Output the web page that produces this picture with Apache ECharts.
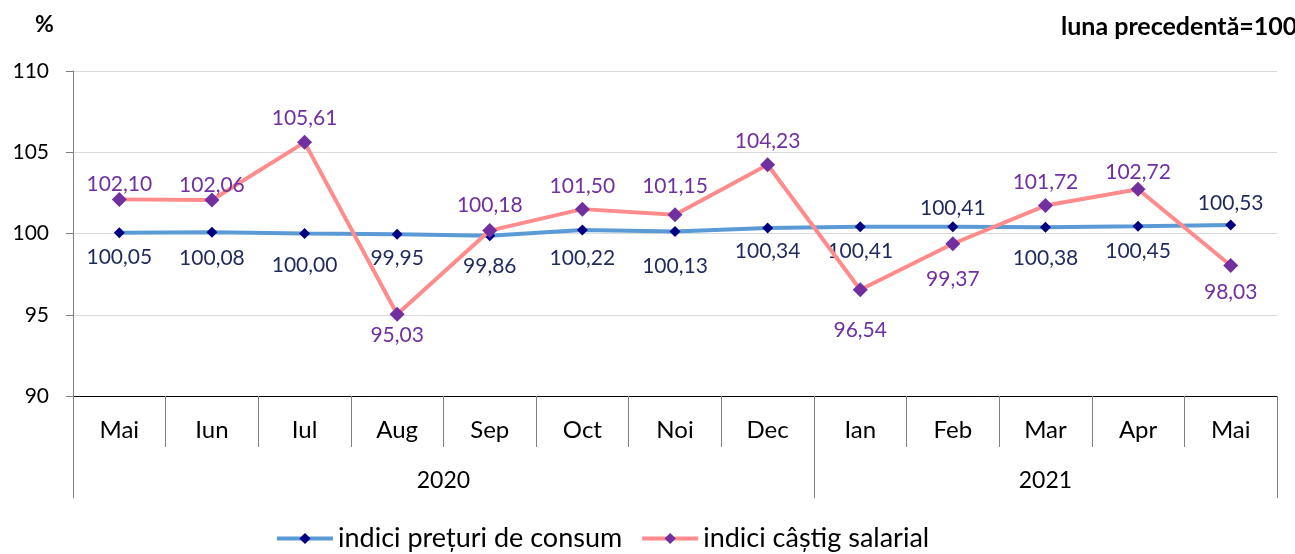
<!DOCTYPE html>
<html>
<head>
<meta charset="utf-8">
<script src="https://cdn.jsdelivr.net/npm/echarts@6/dist/echarts.min.js"></script>
<style>
html,body{margin:0;padding:0;background:#fff;}
#chart{width:1295px;height:554px;}
</style>
</head>
<body>
<div id="chart"></div>
<script>
// ---- data ----
const months = ['Mai','Iun','Iul','Aug','Sep','Oct','Noi','Dec','Ian','Feb','Mar','Apr','Mai'];
const years = ['2020','2021'];
const yearSpans = [8, 5]; // number of months in each year group
const cpi = [100.05,100.08,100.00,99.95,99.86,100.22,100.13,100.34,100.41,100.41,100.38,100.45,100.53];
const salary = [102.10,102.06,105.61,95.03,100.18,101.50,101.15,104.23,96.54,99.37,101.72,102.72,98.03];
const yTicks = {min:90, max:110, interval:5};
const seriesNames = ['indici prețuri de consum','indici câștig salarial'];

// ---- label placement (style only): [dx, dy] of label centre from the marker ----
const cpiLabelOff = [[0,25],[0,26],[0,32],[0,24],[0,30],[0,28],[0,35],[0,23],[0,24],[0,-19],[0,31],[0,25],[0,-22]];
const salLabelOff = [[0,-15],[0,-15],[0,-24],[0,21],[-12,-25],[0,-23],[0,-29],[0,-24],[0,41],[0,35],[0,-23],[0,-17],[0,27]];

const fmt = v => v.toFixed(2).replace('.', ',');
const FONT = 'Lato';
const LABEL_FS = 21;

function labelFor(off, symSize){
  const half = symSize/2 + LABEL_FS/2;
  const dy = off[1];
  return {
    position: dy >= 0 ? 'bottom' : 'top',
    distance: Math.abs(dy) - half,
    offset: [off[0], 0]
  };
}
const cpiData = cpi.map((v,i)=>({value:v,label:labelFor(cpiLabelOff[i],11)}));
const salData = salary.map((v,i)=>({value:v,label:labelFor(salLabelOff[i],15)}));

// year group boundaries and centers
const bounds = [0]; yearSpans.forEach(s=>bounds.push(bounds[bounds.length-1]+s));
const centers = yearSpans.map((s,i)=>bounds[i]+s/2);

const chart = echarts.init(document.getElementById('chart'), null, {renderer:'canvas'});
chart.setOption({
  animation:false,
  backgroundColor:'#fff',
  textStyle:{fontFamily:FONT},
  title:[
    {text:'%', left:30, top:8, textStyle:{fontFamily:FONT,fontWeight:'bold',fontSize:23,color:'#000'}},
    {text:'luna precedentă=100', left:1056, top:9, textStyle:{fontFamily:FONT,fontWeight:'bold',fontSize:25,color:'#000'}}
  ],
  legend:{
    left:270, top:520, padding:5,
    itemWidth:56, itemHeight:14, itemGap:18,
    lineStyle:{width:4},
    textStyle:{fontFamily:FONT,fontSize:27,color:'#000'},
    data:seriesNames
  },
  grid:{left:73, right:18, top:71, bottom:158, containLabel:false},
  xAxis:[
    {
      type:'category', data:months, boundaryGap:true,
      axisLine:{show:true, lineStyle:{color:'#000', width:1}},
      axisTick:{show:true, interval:0, length:51, lineStyle:{color:'#808080'}},
      axisLabel:{interval:0, margin:22, fontFamily:FONT, fontSize:24, color:'#000'},
      splitLine:{show:false}
    },
    {
      type:'value', position:'bottom', offset:51, min:0, max:months.length,
      axisLine:{show:false},
      axisTick:{show:true, length:51, customValues:bounds, lineStyle:{color:'#808080'}},
      axisLabel:{show:true, margin:22, customValues:centers, fontFamily:FONT, fontSize:23, color:'#000',
        formatter:(v)=>{const i=centers.indexOf(v);return i>=0?years[i]:'';}},
      splitLine:{show:false}
    }
  ],
  yAxis:{
    type:'value', min:yTicks.min, max:yTicks.max, interval:yTicks.interval,
    axisLine:{show:true, lineStyle:{color:'#808080'}},
    axisTick:{show:true, length:7, lineStyle:{color:'#808080'}},
    axisLabel:{margin:24, fontFamily:FONT, fontSize:21, color:'#000'},
    splitLine:{show:true, lineStyle:{color:'#D9D9D9', width:1}}
  },
  series:[
    {
      name:seriesNames[0], type:'line', xAxisIndex:0, data:cpiData,
      symbol:'diamond', symbolSize:11,
      lineStyle:{color:'#5B9BD5', width:4},
      itemStyle:{color:'#000080'},
      label:{show:true, formatter:p=>fmt(p.value), fontFamily:FONT, fontSize:LABEL_FS, lineHeight:LABEL_FS, color:'#1F2A5C'},
      labelLayout:{hideOverlap:false, moveOverlap:false},
      z:2
    },
    {
      name:seriesNames[1], type:'line', xAxisIndex:0, data:salData,
      symbol:'diamond', symbolSize:15,
      lineStyle:{color:'#FF8C8C', width:4},
      itemStyle:{color:'#7030A0'},
      label:{show:true, formatter:p=>fmt(p.value), fontFamily:FONT, fontSize:LABEL_FS, lineHeight:LABEL_FS, color:'#7030A0'},
      labelLayout:{hideOverlap:false, moveOverlap:false},
      z:3
    }
  ]
});
</script>
</body>
</html>
